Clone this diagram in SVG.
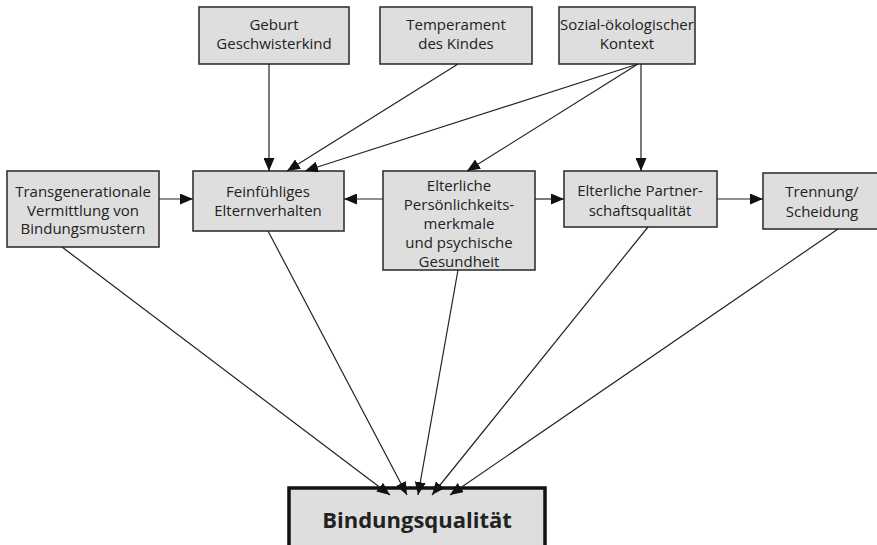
<svg xmlns="http://www.w3.org/2000/svg" width="877" height="545" viewBox="0 0 877 545">
<style>
.box{fill:#dedede;stroke:#333;stroke-width:1.6}
.main{fill:#dedede;stroke:#111;stroke-width:3.5}
text{font-family:"Open Sans","Noto Sans",sans-serif;font-size:15px;fill:#222;text-anchor:middle}
.big{font-size:22px;font-weight:bold}
.c line{stroke:#222;stroke-width:1.2;marker-end:url(#ah)}
</style>
<defs>
<marker id="ah" markerUnits="userSpaceOnUse" markerWidth="13" markerHeight="11" refX="13" refY="5.5" orient="auto">
<path d="M0,0 L13,5.5 L0,11 z" fill="#111"/>
</marker>
</defs>
<rect width="877" height="545" fill="#fff"/>
<g id="geburt"><rect class="box" x="199" y="7" width="150" height="57"/><text x="274" y="30">Geburt<tspan x="274" dy="19">Geschwisterkind</tspan></text></g>
<g id="temperament"><rect class="box" x="380" y="7" width="152" height="57"/><text x="456" y="30">Temperament<tspan x="456" dy="19">des Kindes</tspan></text></g>
<g id="sozial"><rect class="box" x="559" y="7" width="136" height="57"/><text x="627" y="30">Sozial-ökologischer<tspan x="627" dy="19">Kontext</tspan></text></g>
<g id="transgen"><rect class="box" x="7" y="171" width="152" height="76"/><text x="83" y="197">Transgenerationale<tspan x="83" dy="18.5">Vermittlung von</tspan><tspan x="83" dy="18.5">Bindungsmustern</tspan></text></g>
<g id="fein"><rect class="box" x="193" y="171" width="151" height="60"/><text x="268" y="197">Feinfühliges<tspan x="268" dy="19">Elternverhalten</tspan></text></g>
<g id="pers"><rect class="box" x="383" y="171" width="152" height="99"/><text x="459" y="191">Elterliche<tspan x="459" dy="19">Persönlichkeits-</tspan><tspan x="459" dy="19">merkmale</tspan><tspan x="459" dy="19">und psychische</tspan><tspan x="459" dy="18.5">Gesundheit</tspan></text></g>
<g id="partner"><rect class="box" x="564" y="171" width="153" height="56"/><text x="640" y="196">Elterliche Partner-<tspan x="640" dy="20">schaftsqualität</tspan></text></g>
<g id="trennung"><rect class="box" x="763" y="173" width="120" height="56"/><text x="822" y="197">Trennung/<tspan x="822" dy="20">Scheidung</tspan></text></g>
<g id="bindung"><rect class="main" x="289" y="488" width="256" height="62"/><text class="big" x="417" y="528">Bindungsqualität</text></g>
<g class="c" id="connectors">
<line x1="269" y1="64" x2="269" y2="171"/>
<line x1="458" y1="64" x2="287" y2="171"/>
<line x1="638" y1="64" x2="305" y2="171"/>
<line x1="638" y1="64" x2="467" y2="171"/>
<line x1="641" y1="64" x2="641" y2="171"/>
<line x1="159" y1="199" x2="193" y2="199"/>
<line x1="383" y1="199" x2="344" y2="199"/>
<line x1="535" y1="199" x2="564" y2="199"/>
<line x1="717" y1="199" x2="763" y2="199"/>
<line x1="62" y1="247" x2="390" y2="495"/>
<line x1="268" y1="231" x2="407" y2="495"/>
<line x1="458" y1="270" x2="418" y2="495"/>
<line x1="648" y1="227" x2="432" y2="495"/>
<line x1="838" y1="229" x2="450" y2="495"/>
</g>
</svg>
